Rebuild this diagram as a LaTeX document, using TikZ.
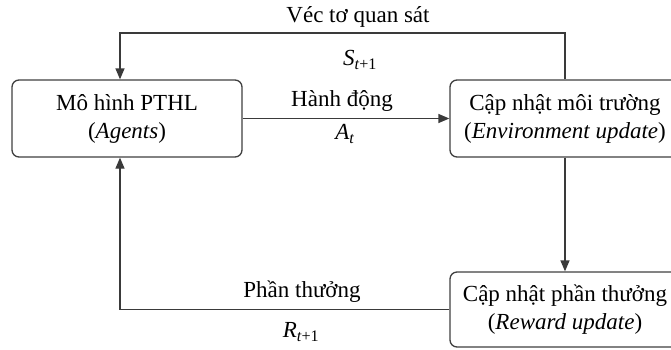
\documentclass[tikz,border=0pt]{standalone}
\usepackage{fontspec}
\setmainfont{Liberation Serif}
\usetikzlibrary{arrows.meta,positioning,calc}
\definecolor{ink}{HTML}{3A3A3A}
\definecolor{edge}{HTML}{404040}

\begin{document}
\begin{tikzpicture}[
  x=1pt,y=-1pt,
  font=\fontsize{23}{28}\selectfont,
  blk/.style={draw=edge,line width=1.3pt,fill=white,rounded corners=7pt,
              minimum width=230pt,minimum height=77pt,inner sep=2pt,
              align=center},
  arr/.style={-{Triangle[width=9pt,length=11pt]},line width=1.3pt,draw=ink},
  lbl/.style={inner sep=0pt},
]
\useasboundingbox (0,0) rectangle (671,349);

% Three blocks
\node[blk] (agent) at (127,118.5) {Mô hình PTHL\\(\textit{Agents})};
\node[blk] (env) at (565,118.5) {Cập nhật môi trường\\(\textit{Environment update})};
\node[blk,minimum height=75pt] (reward) at (565,309.5)
  {Cập nhật phần thưởng\\(\textit{Reward update})};

% Corner points of the feedback loops
\coordinate (obs) at (120,33);
\coordinate (rew) at (120,309.5);

% Connectors
\draw[arr] (agent.east) -- (env.west);
\draw[arr] (env.south) -- (reward.north);
\draw[arr] (env.north) |- (obs) -- (obs |- agent.north);
\draw[arr] (reward.west) -- (rew) -- (rew |- agent.south);

% Labels
\node[lbl] (obsname) at (358,17) {Véc tơ quan sát};
\node[lbl] (obsvar) at (360,60) {\textit{S}\textsubscript{\textit{t}+1}};
\node[lbl] (actname) at (342,101) {Hành động};
\node[lbl] (actvar) at (345,134) {\textit{A}\textsubscript{\textit{t}}};
\node[lbl] (rewname) at (302,292) {Phần thưởng};
\node[lbl] (rewvar) at (301,332) {\textit{R}\textsubscript{\textit{t}+1}};

\end{tikzpicture}
\end{document}
